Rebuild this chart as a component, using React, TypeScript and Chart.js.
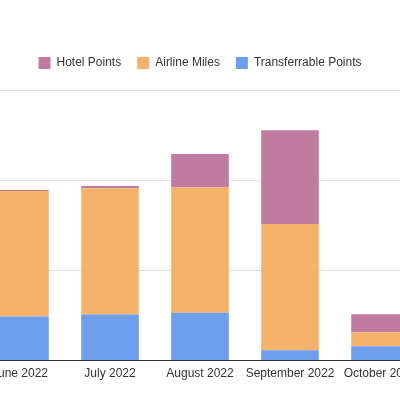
import React, { useEffect, useRef } from 'react';
import Chart from 'chart.js/auto';

const months = ['June 2022', 'July 2022', 'August 2022', 'September 2022', 'October 2022'];
const transferrablePoints = [4900, 5100, 5300, 1150, 1600];
const airlineMiles = [13900, 14000, 13900, 14000, 1550];
const hotelPoints = [100, 270, 3700, 10400, 2000];

const FONT = "'Liberation Sans', Arial, sans-serif";

const App: React.FC = () => {
  const chartRef = useRef<HTMLCanvasElement | null>(null);

  useEffect(() => {
    const ctx = chartRef.current?.getContext('2d');
    if (!ctx) return;

    // push the plot area down a bit below the legend
    const legendMargin = {
      id: 'legendMargin',
      beforeInit(chart: any) {
        const fit = chart.legend.fit;
        chart.legend.fit = function () {
          fit.bind(chart.legend)();
          this.height += 11;
        };
      },
    };

    const chart = new Chart(ctx, {
      type: 'bar',
      data: {
        labels: months,
        datasets: [
          { label: 'Transferrable Points', data: transferrablePoints, backgroundColor: '#6d9eeb' },
          { label: 'Airline Miles', data: airlineMiles, backgroundColor: '#f6b26b' },
          { label: 'Hotel Points', data: hotelPoints, backgroundColor: '#c27ba0' },
        ],
      },
      options: {
        animation: false,
        responsive: true,
        maintainAspectRatio: false,
        layout: { padding: { top: 41, bottom: 13, left: 0, right: 0 } },
        datasets: { bar: { barPercentage: 0.8, categoryPercentage: 0.8 } },
        plugins: {
          legend: {
            reverse: true,
            labels: {
              boxWidth: 12,
              boxHeight: 12,
              padding: 16,
              color: '#333',
              font: { family: FONT, size: 12 },
            },
          },
          tooltip: { enabled: false },
        },
        scales: {
          x: {
            stacked: true,
            grid: { display: false, drawTicks: false },
            border: { display: true, color: '#333', width: 1 },
            ticks: { color: '#333', font: { family: FONT, size: 12 }, padding: 6, maxRotation: 0, autoSkip: false },
          },
          y: {
            stacked: true,
            min: 0,
            max: 30000,
            ticks: { display: false, stepSize: 10000 },
            grid: { color: '#dedede', drawTicks: false },
            border: { display: false },
          },
        },
      },
      plugins: [legendMargin],
    });

    return () => {
      chart.destroy();
    };
  }, []);

  return (
    <div style={{ position: 'fixed', inset: 0, overflow: 'hidden', background: '#fff' }}>
      <div style={{ position: 'absolute', left: -25, top: 0, width: 450, height: 400 }}>
        <canvas ref={chartRef} />
      </div>
    </div>
  );
};

export default App;
